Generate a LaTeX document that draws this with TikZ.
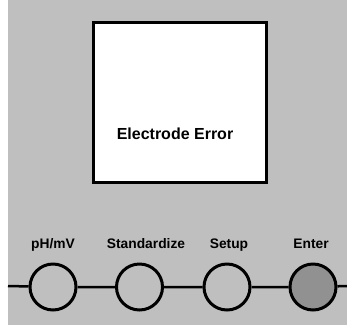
\documentclass[tikz,border=0pt]{standalone}
\usepackage{fontspec}
\setmainfont{Liberation Sans}
\usepackage{tikz}
\definecolor{panelgray}{gray}{.75}
\definecolor{entergray}{gray}{.57}

\begin{document}
\begin{tikzpicture}[x=1pt,y=-1pt,
    button/.style={circle,draw,line width=3pt,inner sep=0pt,minimum size=46pt,fill=panelgray},
    btnlabel/.style={font=\bfseries\fontsize{13.8}{16}\selectfont,anchor=base}]
  \useasboundingbox (0,0) rectangle (347,327);
  \fill[panelgray] (8,0) rectangle (347,325);
  % the display
  \node[draw,line width=2.5pt,fill=white,minimum width=173pt,minimum height=160pt,
        inner sep=0pt] (screen) at (180,102.5) {};
  \node[font=\bfseries\fontsize{16}{19}\selectfont,anchor=base] (msg) at (175,139) {Electrode Error};
  % the keys
  \coordinate (L) at (8,286);
  \coordinate (R) at (347,286);
  \node[button] (ph) at (53,287) {};
  \node[button] (std) at (139.5,287) {};
  \node[button] (setup) at (227,287) {};
  \node[button,fill=entergray] (enter) at (313,287) {};
  \draw[line width=2.5pt] (L) -- (ph) -- (std) -- (setup) -- (enter) -- (R);
  \node[btnlabel] (phlab) at (53,248) {pH/mV};
  \node[btnlabel] (stdlab) at (146,248) {Standardize};
  \node[btnlabel] (setuplab) at (229,248) {Setup};
  \node[btnlabel] (enterlab) at (311,248) {Enter};
\end{tikzpicture}
\end{document}
